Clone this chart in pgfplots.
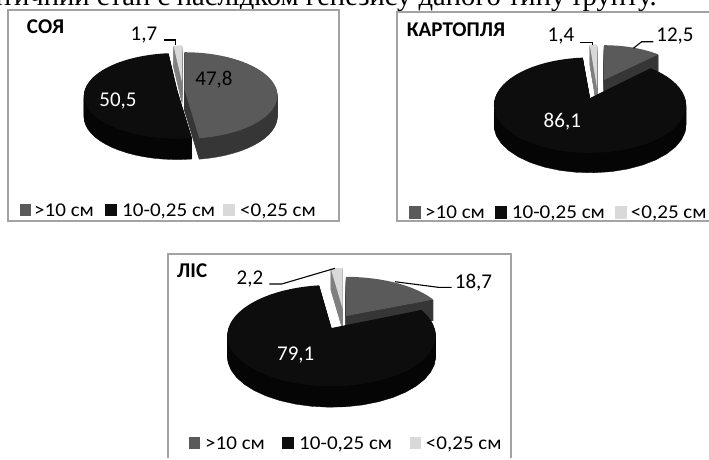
\documentclass[border=0pt]{standalone}
\usepackage{fontspec}
\usepackage{pgfplots}
\pgfplotsset{compat=1.18}
\setmainfont{Carlito}
\newfontfamily\bodyfont{Liberation Serif}
\definecolor{midgray}{HTML}{5A5A5A}
\definecolor{midwall}{HTML}{363636}
\definecolor{darkfill}{HTML}{0D0D0D}
\definecolor{darkwall}{HTML}{050505}
\definecolor{paleFill}{HTML}{D9D9D9}
\definecolor{paleWall}{HTML}{7F7F7F}
\definecolor{framegray}{HTML}{A3A3A3}

% One slice of a tilted pie: centre (#1,#2), radii #3 and #4, wall height #5,
% start and size in percent (#6, #7), top colour #8, wall colour #9.
% The wall is a stack of copies of the slice, the top comes last.
\newcommand{\pieslice}[9]{%
  \pgfplotsinvokeforeach{#5,...,1}{%
    \addplot[fill=#9,draw=#9,line width=0.3pt,domain={#6*3.6}:{(#6+#7)*3.6},samples=36,variable=\t,forget plot]
      ({#1+#3*sin(\t)/(1+0.15*cos(\t))},{#2+##1-#4*cos(\t)/(1+0.15*cos(\t))})
      -- (axis cs:#1,{#2+##1}) -- cycle;
  }%
  \addplot[fill=#8,draw=none,domain={#6*3.6}:{(#6+#7)*3.6},samples=60,variable=\t,forget plot]
    ({#1+#3*sin(\t)/(1+0.15*cos(\t))},{#2-#4*cos(\t)/(1+0.15*cos(\t))})
    -- (axis cs:#1,#2) -- cycle;
}
% Legend key: a filled square with its left edge at #1 and centred on #2.
\newcommand{\legendkey}[3]{%
  \addplot[fill=#3,draw=none,forget plot] coordinates
    {(#1,{#2-6.5}) ({#1+11.5},{#2-6.5}) ({#1+11.5},{#2+6}) (#1,{#2+6})} -- cycle;
}
% Legend text, set a little wider than the font's natural width.
\newcommand{\legtext}[2]{\node[leg] at (axis cs:#1) {\scalebox{1.08}[1]{#2}};}
\tikzset{
  lbl/.style={anchor=base,inner sep=0pt,font=\fontsize{21}{25}\selectfont},
  leg/.style={anchor=base west,inner sep=0pt,font=\fontsize{19.5}{24}\selectfont},
  ttl/.style={anchor=base west,inner sep=0pt,font=\fontsize{21}{25}\selectfont\bfseries},
  frame/.style={draw=framegray,line width=1.6pt},
  lead/.style={black,line width=1.1pt}
}

\begin{document}
\begin{tikzpicture}
\useasboundingbox (0,0) rectangle (709pt,459pt);
\clip (0,0) rectangle (709pt,459pt);
\begin{axis}[
  at={(0,0)},anchor=south west,
  scale only axis,width=709pt,height=459pt,
  xmin=0,xmax=709,ymin=0,ymax=459,y dir=reverse,
  axis lines=none,clip=false]

% line of body text running above the charts
\node[anchor=base east,inner sep=0pt,font=\bodyfont\fontsize{28.6}{34}\selectfont] at (axis cs:657,5.5)
  {атичний стан є наслідком генезису даного типу ґрунту.};

% frames
\draw[frame] (axis cs:8,10) rectangle (axis cs:339,221);
\draw[frame] (axis cs:720,12) -- (axis cs:397,12) -- (axis cs:397,221) -- (axis cs:720,221);
\draw[frame] (axis cs:168,458) -- (axis cs:168,254) -- (axis cs:511,254) -- (axis cs:511,458);

% soya: 47.8, 50.5, 1.7
\pieslice{182}{82}{92}{42}{21}{98.3}{1.7}{paleFill}{paleWall}
\pieslice{184.3}{89}{92}{42.3}{21}{0}{47.8}{midgray}{midwall}
\pieslice{177}{89.4}{92}{41.8}{21}{47.8}{50.5}{darkfill}{darkwall}

% potato: 12.5, 86.1, 1.4
\pieslice{597}{88}{95}{50}{20}{98.6}{1.4}{paleFill}{paleWall}
\pieslice{604}{80}{85}{40}{20}{0}{12.5}{midgray}{midwall}
\pieslice{590}{98}{95}{46.6}{20}{12.5}{86.1}{darkfill}{darkwall}

% forest: 18.7, 79.1, 2.2
\pieslice{342.7}{309}{100}{47}{21}{97.8}{2.2}{paleFill}{paleWall}
\pieslice{346}{316}{100}{45}{21}{0}{18.7}{midgray}{midwall}
\pieslice{331.5}{328}{103}{49.5}{21}{18.7}{79.1}{darkfill}{darkwall}

% leader lines
\addplot[lead,forget plot] coordinates {(164,40) (175.7,40) (175.7,45)};
\addplot[lead,forget plot] coordinates {(580,42.7) (592.3,42.7) (592.3,45)};
\addplot[lead,forget plot] coordinates {(633.3,48.3) (641.7,41.7) (653.3,41.7)};
\addplot[lead,forget plot] coordinates {(395,281.7) (438.3,287.3) (451.7,287.3)};
\addplot[lead,forget plot] coordinates {(269.3,284) (281.7,284) (335,268.3)};

% value labels
\node[lbl] at (axis cs:214,85) {47,8};
\node[lbl,white] at (axis cs:118,106.7) {50,5};
\node[lbl] at (axis cs:144,40) {1,7};
\node[lbl,white] at (axis cs:562.3,127.7) {86,1};
\node[lbl] at (axis cs:561,41.7) {1,4};
\node[lbl] at (axis cs:675,41.7) {12,5};
\node[lbl,white] at (axis cs:295.7,360) {79,1};
\node[lbl] at (axis cs:250,284.3) {2,2};
\node[lbl] at (axis cs:473.5,288.3) {18,7};

% titles
\node[ttl] at (axis cs:26.7,33) {СОЯ};
\node[ttl] at (axis cs:406.7,36) {КАРТОПЛЯ};
\node[ttl] at (axis cs:177,277.7) {ЛІС};

% legends
\legendkey{19.5}{210}{midgray}
\legendkey{105}{210}{darkfill}
\legendkey{223}{210}{paleFill}
\legtext{34,216}{>10 см}
\legtext{122,216}{10-0,25 см}
\legtext{240,216}{<0,25 см}

\legendkey{409}{212.7}{midgray}
\legendkey{495}{212.7}{darkfill}
\legendkey{615}{212.7}{paleFill}
\legtext{425,218.7}{>10 см}
\legtext{511.7,218.7}{10-0,25 см}
\legtext{630.7,218.7}{<0,25 см}

\legendkey{188.5}{443}{midgray}
\legendkey{282}{443}{darkfill}
\legendkey{409.5}{443}{paleFill}
\legtext{205,449.3}{>10 см}
\legtext{299,449.3}{10-0,25 см}
\legtext{425.7,449.3}{<0,25 см}
\end{axis}
\end{tikzpicture}
\end{document}
